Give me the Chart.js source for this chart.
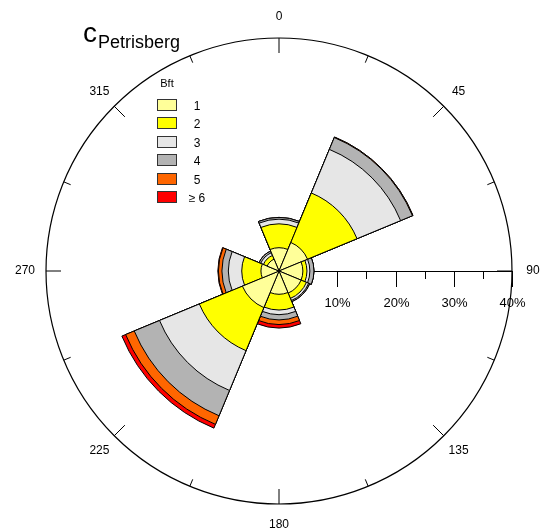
<!DOCTYPE html>
<html><head><meta charset="utf-8">
<script src="https://cdn.jsdelivr.net/npm/chart.js@4.4.1/dist/chart.umd.min.js"></script>
<style>html,body{margin:0;padding:0;background:#fff;} canvas{display:block;}</style>
</head><body>
<canvas id="c" width="541" height="529"></canvas>
<script>
// ---- data (percent frequency per direction and Beaufort class) ----
const directions = ['N', 'NE', 'E', 'SE', 'S', 'SW', 'W', 'NW'];
const directionLabels = ['0', '45', '90', '135', '180', '225', '270', '315'];
const bftClasses = ['1', '2', '3', '4', '5', '\u2265 6'];
const bft1 = [4.0, 5.3, 4.1, 4.1, 4.0, 6.8, 3.1, 2.2];
const bft2 = [4.1, 9.2, 0.7, 1.0, 2.7, 8.0, 3.3, 0.7];
const bft3 = [0.8, 8.1, 0.5, 0.4, 0.8, 7.4, 2.3, 0.5];
const bft4 = [0.3, 2.2, 0.7, 0.2, 0.9, 4.7, 1.1, 0.3];
const bft5 = [0.0, 0.1, 0.0, 0.0, 0.8, 1.6, 0.6, 0.0];
const bft6 = [0.0, 0.0, 0.0, 0.0, 0.6, 0.7, 0.1, 0.0];
const radialTicks = [10, 20, 30, 40];
const radialMinorTicks = [15, 25, 35];
const tickSuffix = '%';
const titleMain = 'c';
const titleSub = 'Petrisberg';
const legendTitle = 'Bft';

const colors = ['#FFFF99', '#FFFF00', '#E6E6E6', '#B3B3B3', '#FF6600', '#FF0000'];
const FONT = '"Liberation Sans", Arial, sans-serif';

const series = [bft1, bft2, bft3, bft4, bft5, bft6];
const cumulative = [];
series.forEach((s, k) => {
  cumulative.push(s.map((v, i) => +(v + (k ? cumulative[k - 1][i] : 0)).toFixed(2)));
});

const datasets = cumulative.map((d, k) => ({
  label: bftClasses[k],
  data: d,
  backgroundColor: colors[k],
  borderColor: '#000',
  borderWidth: 1
}));

const decorPlugin = {
  id: 'decor',
  beforeDatasetsDraw(chart) {
    const sc = chart.scales.r;
    const ctx = chart.ctx;
    const cx = sc.xCenter, cy = sc.yCenter;
    ctx.save();
    ctx.strokeStyle = '#000';
    ctx.lineWidth = 1;
    // radial axis along 90 degrees
    const rMax = sc.getDistanceFromCenterForValue(sc.max);
    ctx.beginPath();
    ctx.moveTo(cx, cy + 0.5);
    ctx.lineTo(cx + rMax, cy + 0.5);
    ctx.stroke();
    radialMinorTicks.forEach(v => {
      const x = Math.round(cx + sc.getDistanceFromCenterForValue(v)) + 0.5;
      ctx.beginPath(); ctx.moveTo(x, cy); ctx.lineTo(x, cy + 8); ctx.stroke();
    });
    ctx.fillStyle = '#000';
    ctx.font = '13px ' + FONT;
    ctx.textAlign = 'center';
    ctx.textBaseline = 'middle';
    radialTicks.forEach(v => {
      const x = Math.round(cx + sc.getDistanceFromCenterForValue(v)) + 0.5;
      ctx.beginPath(); ctx.moveTo(x, cy); ctx.lineTo(x, cy + 16); ctx.stroke();
      ctx.fillText(v + tickSuffix, x, cy + 32);
    });
    // direction ticks on the outer circle
    for (let a = 0; a < 360; a += 22.5) {
      const rad = a * Math.PI / 180;
      const len = (a % 45 === 0) ? 15 : 7.5;
      const sx = Math.sin(rad), sy = -Math.cos(rad);
      ctx.beginPath();
      ctx.moveTo(cx + sx * rMax, cy + sy * rMax);
      ctx.lineTo(cx + sx * (rMax - len), cy + sy * (rMax - len));
      ctx.stroke();
    }
    // direction labels
    ctx.font = '12px ' + FONT;
    directionLabels.forEach((lab, i) => {
      const rad = (i * 45) * Math.PI / 180;
      const rl = rMax + 21;
      ctx.fillText(lab, cx + Math.sin(rad) * rl, cy - Math.cos(rad) * rl);
    });
    ctx.restore();
  },
  afterDraw(chart) {
    const ctx = chart.ctx;
    ctx.save();
    ctx.fillStyle = '#000';
    ctx.textBaseline = 'alphabetic';
    ctx.textAlign = 'left';
    ctx.font = '28px ' + FONT;
    ctx.fillText(titleMain, 83, 42);
    ctx.font = '18px ' + FONT;
    ctx.fillText(titleSub, 98, 48);
    // legend
    ctx.textAlign = 'center';
    ctx.textBaseline = 'middle';
    ctx.font = '11px ' + FONT;
    ctx.fillText(legendTitle, 167, 84);
    ctx.font = '12px ' + FONT;
    ctx.strokeStyle = '#333';
    ctx.lineWidth = 1;
    bftClasses.forEach((lab, k) => {
      const y = 98.5 + k * 18.5;
      ctx.fillStyle = colors[k];
      ctx.fillRect(157.5, Math.round(y) + 0.5, 19, 11);
      ctx.strokeRect(157.5, Math.round(y) + 0.5, 19, 11);
      ctx.fillStyle = '#000';
      ctx.fillText(lab, 197, Math.round(y) + 7.5);
    });
    ctx.restore();
  }
};

new Chart(document.getElementById('c'), {
  type: 'polarArea',
  data: { labels: directions, datasets: datasets },
  options: {
    responsive: false,
    animation: false,
    devicePixelRatio: 1,
    layout: { padding: { left: 46, top: 38, right: 29, bottom: 25 } },
    plugins: { legend: { display: false }, tooltip: { enabled: false }, title: { display: false } },
    scales: {
      r: {
        min: 0,
        max: 40,
        startAngle: -22.5,
        ticks: { display: false, stepSize: 10 },
        pointLabels: { display: false },
        angleLines: { display: false },
        grid: {
          circular: true,
          lineWidth: 1.2,
          color: (c) => (c.tick && c.tick.value === 40) ? '#000' : 'rgba(0,0,0,0)'
        }
      }
    }
  },
  plugins: [decorPlugin]
});
</script>
</body></html>
